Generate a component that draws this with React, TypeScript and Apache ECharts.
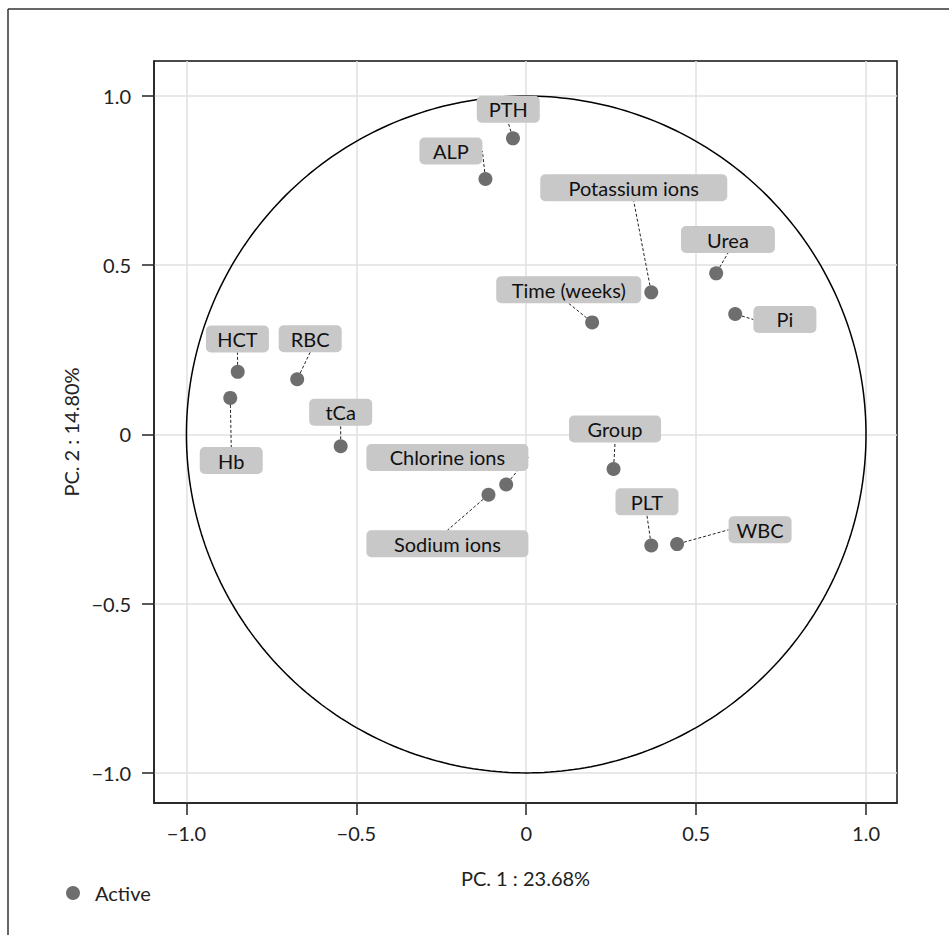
import React, { useEffect, useRef } from "react";
import * as echarts from "echarts";

const variables = [
  "PTH", "ALP", "Potassium ions", "Urea", "Pi", "Time (weeks)", "HCT", "RBC",
  "Hb", "tCa", "Chlorine ions", "Sodium ions", "Group", "PLT", "WBC",
];
const pc1 = [-0.039, -0.12, 0.368, 0.559, 0.615, 0.194, -0.849, -0.674, -0.871, -0.546, -0.059, -0.111, 0.257, 0.368, 0.444];
const pc2 = [0.875, 0.755, 0.42, 0.476, 0.356, 0.331, 0.185, 0.163, 0.108, -0.035, -0.148, -0.178, -0.102, -0.328, -0.324];
const tickValues = [-1, -0.5, 0, 0.5, 1];
const xTitle = "PC. 1 : 23.68%";
const yTitle = "PC. 2 : 14.80%";
const legendName = "Active";

// label box layout (pixel offsets from point centre, box width)
const labelLayoutTable: [number, number, number][] = [
  [-4.7, -29.1, 63],
  [-34.5, -27.9, 63],
  [-17.5, -104.5, 187],
  [11.8, -33.8, 94],
  [49.7, 5.5, 63],
  [-23.4, -32.6, 145],
  [-0.3, -32.9, 63],
  [13, -40.5, 63],
  [1, 62.6, 63],
  [0, -34, 63],
  [-58.8, -27.1, 162],
  [-41.1, 49.1, 162],
  [1.5, -39.9, 92],
  [-4.3, -43.6, 63],
  [83, -14.3, 63],
];

const FONT = "Lato";

function fmt(v: number) {
  if (Math.abs(v) < 1e-9) return "0";
  const s = Math.abs(v).toFixed(1);
  return v < 0 ? "\u2212" + s : s;
}

export default function App() {
  const ref = useRef<HTMLDivElement>(null);
  useEffect(() => {
    if (!ref.current) return;
    const chart = echarts.init(ref.current, undefined, { renderer: "svg" });
    const circle: number[][] = [];
    for (let i = 0; i <= 360; i++) {
      const a = (i * Math.PI) / 180;
      circle.push([Math.cos(a), Math.sin(a)]);
    }
    const points = variables.map((n, i) => ({
      name: n,
      value: [pc1[i], pc2[i]],
      label: { width: labelLayoutTable[i][2] },
    }));
    const axisCommon = {
      type: "value" as const,
      axisLine: { show: true, onZero: false, lineStyle: { color: "#222", width: 1.5 } },
      axisTick: { show: true, length: 12, lineStyle: { color: "#222", width: 1.5 }, customValues: tickValues },
      splitLine: { show: true, lineStyle: { color: "#e0e0e0", width: 1.5 } },
      nameLocation: "middle" as const,
      nameTextStyle: { fontFamily: FONT, fontSize: 20, color: "#222" },
    };
    chart.setOption({
      animation: false,
      backgroundColor: "#fff",
      textStyle: { fontFamily: FONT },
      grid: { left: 154, top: 61, right: 52, bottom: 132, show: true, borderColor: "#111", borderWidth: 1.5, containLabel: false },
      legend: {
        data: [legendName],
        left: 66,
        top: 883,
        padding: 0,
        icon: "circle",
        itemWidth: 14,
        itemHeight: 14,
        textStyle: { fontFamily: FONT, fontSize: 20, color: "#222", padding: [0, 0, 0, 10] },
      },
      xAxis: {
        ...axisCommon,
        min: -1.0954,
        max: 1.0912,
        name: xTitle,
        nameGap: 65,
        axisLabel: { fontFamily: FONT, fontSize: 20, color: "#222", margin: 20, customValues: tickValues, formatter: (v: number) => fmt(v) },
      },
      yAxis: {
        ...axisCommon,
        min: -1.089,
        max: 1.1035,
        name: yTitle,
        nameGap: 70,
        axisLabel: { fontFamily: FONT, fontSize: 20, color: "#222", margin: 23, customValues: tickValues, formatter: (v: number) => fmt(v) },
      },
      series: [
        {
          type: "line",
          name: "circle",
          data: circle,
          showSymbol: false,
          silent: true,
          lineStyle: { color: "#000", width: 1.5 },
          z: 2,
        },
        {
          type: "scatter",
          name: legendName,
          data: points,
          symbolSize: 14,
          itemStyle: { color: "#6e6e6e", opacity: 1 },
          z: 5,
          label: {
            show: true,
            position: "inside",
            formatter: (p: any) => p.name,
            fontFamily: FONT,
            fontSize: 20,
            color: "#111",
            backgroundColor: "#c8c8c8",
            borderRadius: 5,
            height: 27,
            lineHeight: 27,
            padding: 0,
            align: "center",
            verticalAlign: "middle",
          },
          labelLine: {
            show: true,
            lineStyle: { color: "#222", width: 1, type: [3, 2] },
          },
          labelLayout: (params: any) => {
            const t = labelLayoutTable[params.dataIndex];
            const r = params.rect;
            return {
              x: r.x + r.width / 2 + t[0],
              y: r.y + r.height / 2 + t[1],
              align: "center",
              verticalAlign: "middle",
            };
          },
        },
      ],
      graphic: [
        { type: "line", shape: { x1: 8, y1: 9, x2: 949, y2: 9 }, style: { stroke: "#333", lineWidth: 1.5 } },
        { type: "line", shape: { x1: 8, y1: 9, x2: 8, y2: 935 }, style: { stroke: "#333", lineWidth: 1.5 } },
      ],
    });
    return () => chart.dispose();
  }, []);
  return <div ref={ref} style={{ position: "fixed", left: 0, top: 0, width: 949, height: 935 }} />;
}
